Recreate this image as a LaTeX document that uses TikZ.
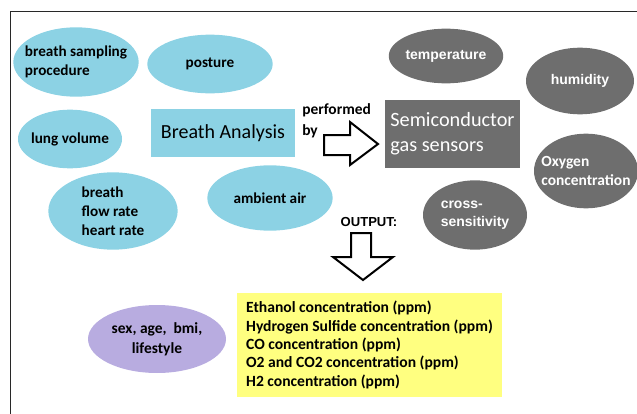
\documentclass[tikz,border=0pt]{standalone}
\usepackage{fontspec}
\setmainfont{Carlito}
\newfontfamily\arialfont{Liberation Sans}
\usetikzlibrary{shapes}
\definecolor{ba-blue}{RGB}{140, 210, 228}
\definecolor{ba-gray}{RGB}{110, 110, 110}
\definecolor{ba-purple}{RGB}{184, 172, 224}
\definecolor{ba-yellow}{RGB}{255, 255, 128}
\definecolor{ba-frame}{RGB}{40, 40, 40}

\tikzset{
  factor/.style = {ellipse, fill=ba-blue, inner sep=0pt, align=left,
    font=\fontsize{11.4}{14.2}\selectfont\bfseries},
  sensorfactor/.style = {ellipse, fill=ba-gray, text=white, inner sep=0pt, align=left,
    font=\arialfont\fontsize{10.5}{13.5}\selectfont\bfseries},
  blockarrow/.style = {draw=black, line width=1.5pt, fill=white, line join=miter},
}

\begin{document}
\begin{tikzpicture}[x=0.75pt, y=-0.75pt]
          \useasboundingbox (0,0) rectangle (637,414);
          \draw[ba-frame] (10,414) -- (10,11) -- (637,11);

          % influencing factors of the breath
          \node[factor, inner xsep=-6pt, minimum width=94pt, minimum height=52pt] (sampling) at (76,62) {breath sampling\\procedure};
          \node[factor, minimum width=94pt, minimum height=44pt] (posture) at (210,64) {posture};
          \node[factor, inner xsep=-2.5pt, minimum width=78pt, minimum height=44pt] (lung) at (70,139) {lung volume};
          \node[factor, minimum width=97pt, minimum height=58pt] (flow) at (113,211) {breath\\flow rate\\heart rate};
          \node[factor, minimum width=94pt, minimum height=49pt] (ambient) at (270,198) {ambient air};

          \node[fill=ba-blue, minimum width=108pt, minimum height=36pt,
                font=\fontsize{15}{17}\selectfont] (analysis) at (223,133) {Breath Analysis};
          \node[anchor=west, align=left, inner sep=0pt,
                font=\fontsize{11.6}{15.75}\selectfont\bfseries] (performed) at (302,121) {performed\\by};

          \fill[blockarrow] (324,135) -- (350,135) -- (350,122) -- (378,144)
                -- (350,165) -- (350,155) -- (324,155) -- cycle;

          \node[fill=ba-gray, text=white, align=left, minimum width=101pt, minimum height=51pt,
                font=\fontsize{15.2}{19}\selectfont] (sensors) at (452.5,134) {Semiconductor\\gas sensors};

          % factors acting on the sensors
          \node[sensorfactor, minimum width=82.5pt, minimum height=41pt] (temperature) at (446,56) {temperature};
          \node[sensorfactor, minimum width=81pt, minimum height=50pt] (humidity) at (580,81) {humidity};
          \node[sensorfactor, inner xsep=-6.4pt, minimum width=78pt, minimum height=56pt,
                font=\fontsize{11.6}{14}\selectfont\bfseries] (oxygen) at (586,171) {Oxygen\\concentration};
          \node[sensorfactor, minimum width=78pt, minimum height=52pt] (cross) at (475,215) {cross-\\sensitivity};

          \node[font=\arialfont\fontsize{9.8}{11}\selectfont\bfseries] (output) at (369,222) {OUTPUT:};
          \fill[blockarrow] (351,233) -- (371,233) -- (371,257) -- (393,257)
                -- (363,280) -- (333,257) -- (351,257) -- cycle;

          \node[ellipse, fill=ba-purple, inner sep=0pt, minimum width=103.5pt, minimum height=51pt,
                align=center, font=\fontsize{11.6}{15}\selectfont\bfseries] (personal) at (157,339) {sex, age,~~bmi,\\lifestyle};
          \node[fill=ba-yellow, minimum width=199pt, minimum height=78pt, align=left,
                font=\fontsize{11.7}{13.8}\selectfont\bfseries] (results) at (369.5,345)
                {Ethanol concentration (ppm)\\Hydrogen Sulfide concentration (ppm)\\CO concentration (ppm)\\O2 and CO2 concentration (ppm)\\H2 concentration (ppm)};
        \end{tikzpicture}
\end{document}
